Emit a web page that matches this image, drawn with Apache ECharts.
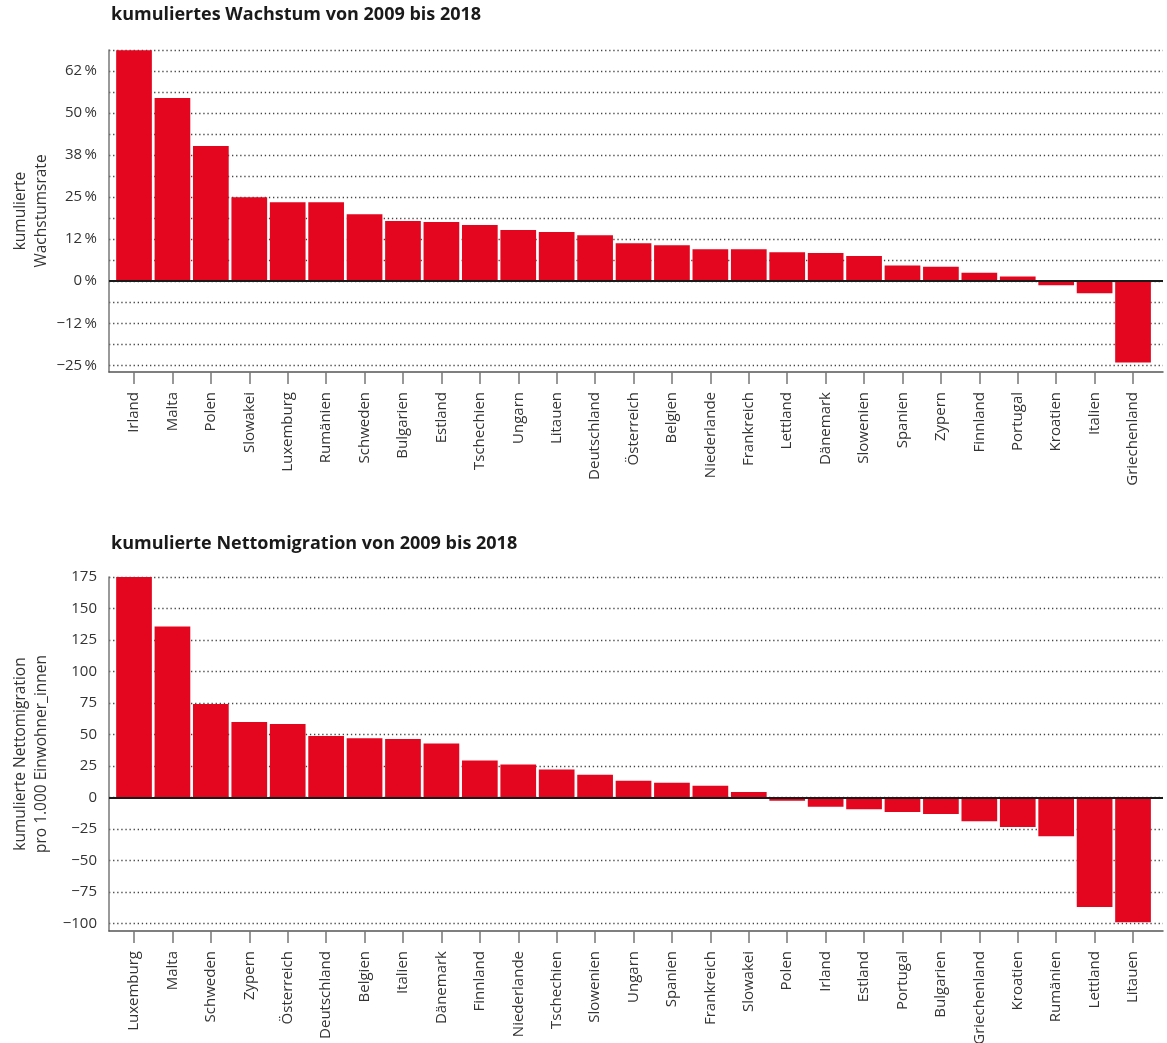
<!DOCTYPE html>
<html>
<head>
<meta charset="utf-8">
<script src="https://cdn.jsdelivr.net/npm/echarts@6/dist/echarts.min.js"></script>
<style>
html,body{margin:0;padding:0;background:#fff;}
#chart{width:1167px;height:1043px;}
</style>
</head>
<body>
<div id="chart"></div>
<script>
// ---- Data: top chart (cumulative growth 2009-2018, %) ----
const growthCategories = ['Irland','Malta','Polen','Slowakei','Luxemburg','Rumänien','Schweden','Bulgarien','Estland','Tschechien','Ungarn','Litauen','Deutschland','Österreich','Belgien','Niederlande','Frankreich','Lettland','Dänemark','Slowenien','Spanien','Zypern','Finnland','Portugal','Kroatien','Italien','Griechenland'];
const growthValues = [68.7, 54.5, 40.2, 25.0, 23.5, 23.5, 19.9, 17.9, 17.6, 16.7, 15.2, 14.6, 13.7, 11.3, 10.7, 9.5, 9.5, 8.6, 8.4, 7.5, 4.7, 4.3, 2.5, 1.4, -1.2, -3.6, -24.2];
const growthGridValues = [-25, -18.75, -12.5, -6.25, 0, 6.25, 12.5, 18.75, 25, 31.25, 37.5, 43.75, 50, 56.25, 62.5, 68.75];
const growthTickValues = [-25, -12.5, 0, 12.5, 25, 37.5, 50, 62.5];
const growthTickLabels = ['\u221225\u2009%', '\u221212\u2009%', '0\u2009%', '12\u2009%', '25\u2009%', '38\u2009%', '50\u2009%', '62\u2009%'];

// ---- Data: bottom chart (cumulative net migration per 1,000 inhabitants) ----
const migrationCategories = ['Luxemburg','Malta','Schweden','Zypern','Österreich','Deutschland','Belgien','Italien','Dänemark','Finnland','Niederlande','Tschechien','Slowenien','Ungarn','Spanien','Frankreich','Slowakei','Polen','Irland','Estland','Portugal','Bulgarien','Griechenland','Kroatien','Rumänien','Lettland','Litauen'];
const migrationValues = [175, 135.7, 74.2, 59.9, 58.3, 48.7, 47.1, 46.5, 42.8, 29.3, 26.1, 22.1, 18.1, 13.3, 11.7, 9.3, 4.3, -2.6, -7.4, -9.3, -11.6, -13.2, -18.8, -23.5, -30.7, -87, -99];
const migrationTickValues = [-100, -75, -50, -25, 0, 25, 50, 75, 100, 125, 150, 175];
const migrationTickLabels = ['\u2212100', '\u221275', '\u221250', '\u221225', '0', '25', '50', '75', '100', '125', '150', '175'];

const FONT = '"Open Sans", "Noto Sans", sans-serif';
const RED = '#e3061e';
const TEXT = '#333333';

function idx(n){ const a=[]; for(let i=0;i<n;i++) a.push(i); return a; }

function xAxisFor(cats, gridIndex){
  const ids = idx(cats.length);
  return {
    type: 'value', gridIndex: gridIndex,
    min: -0.651, max: cats.length - 1 + 0.78,
    axisLine: { show: true, onZero: false, lineStyle: { color: '#555', width: 1.5 } },
    axisTick: { show: true, customValues: ids, length: 12, lineStyle: { color: '#777', width: 1.5 } },
    axisLabel: {
      customValues: ids, rotate: 90, margin: 20,
      fontFamily: FONT, fontSize: 15, color: TEXT,
      formatter: function(v){ return cats[Math.round(v)]; }
    },
    splitLine: { show: false }
  };
}

function yAxisFor(opts){
  return {
    type: 'value', gridIndex: opts.gridIndex,
    min: opts.min, max: opts.max,
    name: opts.name, nameLocation: 'middle', nameGap: 57, nameRotate: 90,
    nameMoveOverlap: false,
    nameTextStyle: { fontFamily: FONT, fontSize: 15.5, color: TEXT, lineHeight: 21 },
    axisLine: { show: true, onZero: false, lineStyle: { color: '#777', width: 1.5 } },
    axisTick: { show: false, customValues: opts.gridValues },
    axisLabel: {
      customValues: opts.tickValues, margin: 12,
      fontFamily: FONT, fontSize: 15, color: TEXT,
      formatter: function(v){
        for (let i=0;i<opts.tickValues.length;i++){ if (Math.abs(opts.tickValues[i]-v)<1e-6) return opts.tickLabels[i]; }
        return '';
      }
    },
    splitLine: { show: true, lineStyle: { color: '#444', width: 1.3, type: [1.3, 2.8] } }
  };
}

function barSeries(cats, vals, gi){
  return {
    type: 'bar', xAxisIndex: gi, yAxisIndex: gi,
    data: cats.map((c,i)=>[i, vals[i]]),
    barWidth: 35.7,
    itemStyle: { color: RED },
    silent: true,
    markLine: {
      silent: true, symbol: 'none', label: { show: false },
      lineStyle: { color: '#1a1a1a', width: 2, type: 'solid' },
      data: [{ yAxis: 0 }]
    }
  };
}

const chart = echarts.init(document.getElementById('chart'), null, { renderer: 'canvas' });
chart.setOption({
  animation: false,
  backgroundColor: '#fff',
  title: [
    { text: 'kumuliertes Wachstum von 2009 bis 2018', left: 111, top: 6, padding: 0,
      textStyle: { fontFamily: FONT, fontSize: 18, fontWeight: 'bold', color: '#1a1a1a' } },
    { text: 'kumulierte Nettomigration von 2009 bis 2018', left: 111, top: 535, padding: 0,
      textStyle: { fontFamily: FONT, fontSize: 18, fontWeight: 'bold', color: '#1a1a1a' } }
  ],
  grid: [
    { left: 109, right: 4, top: 50, height: 322, outerBoundsMode: 'none', containLabel: false },
    { left: 109, right: 4, top: 577, height: 354, outerBoundsMode: 'none', containLabel: false }
  ],
  xAxis: [ xAxisFor(growthCategories, 0), xAxisFor(migrationCategories, 1) ],
  yAxis: [
    yAxisFor({ gridIndex: 0, min: -27, max: 68.75, name: 'kumulierte\nWachstumsrate',
      gridValues: growthGridValues, tickValues: growthTickValues, tickLabels: growthTickLabels }),
    yAxisFor({ gridIndex: 1, min: -106, max: 175, name: 'kumulierte Nettomigration\npro 1.000 Einwohner_innen',
      gridValues: migrationTickValues, tickValues: migrationTickValues, tickLabels: migrationTickLabels })
  ],
  series: [
    barSeries(growthCategories, growthValues, 0),
    barSeries(migrationCategories, migrationValues, 1)
  ]
});
</script>
</body>
</html>
